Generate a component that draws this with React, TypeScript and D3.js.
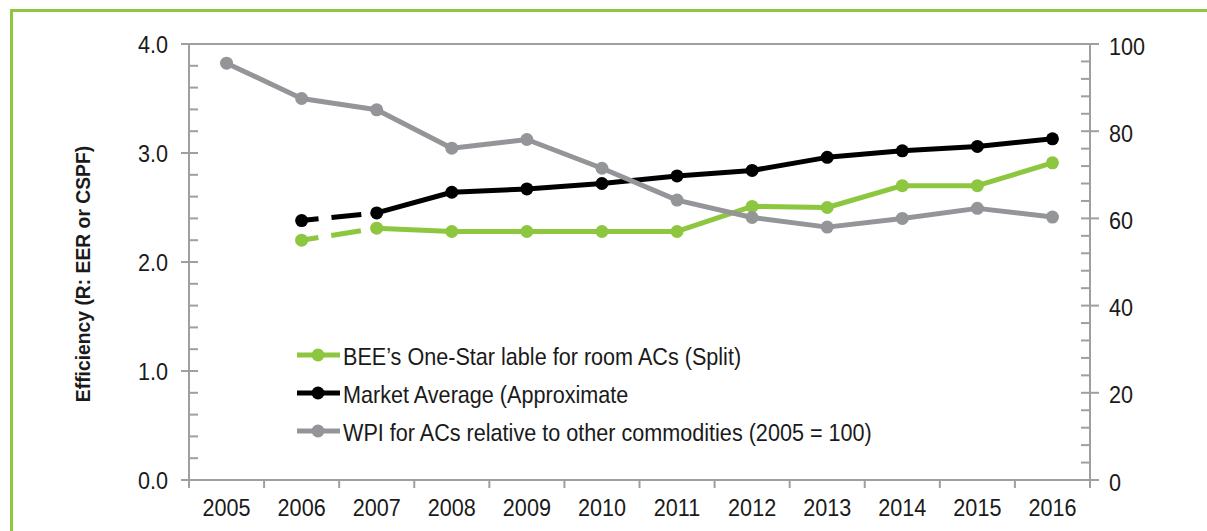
import * as d3 from "d3";
import type { ReactNode } from "react";

const W = 1207;
const H = 531;
const MARGIN = { top: 44, right: 117, bottom: 51, left: 189 };

const years = ["2005", "2006", "2007", "2008", "2009", "2010", "2011", "2012", "2013", "2014", "2015", "2016"];
// efficiency, left axis (null = no value)
const beeOneStar = [null, 2.2, 2.31, 2.28, 2.28, 2.28, 2.28, 2.51, 2.5, 2.7, 2.7, 2.91];
const marketAvg = [null, 2.38, 2.45, 2.64, 2.67, 2.72, 2.79, 2.84, 2.96, 3.02, 3.06, 3.13];
// WPI, right axis
const wpi = [95.6, 87.5, 84.9, 76.1, 78.1, 71.5, 64.2, 60.2, 58.0, 60.0, 62.3, 60.3];

const leftTicks = [0, 1, 2, 3, 4];
const rightTicks = [0, 20, 40, 60, 80, 100];
const legendLabels = [
  "BEE\u2019s One-Star lable for room ACs (Split)",
  "Market Average (Approximate",
  "WPI for ACs relative to other commodities (2005 = 100)",
];

const GREEN = "#8dc63f";
const BLACK = "#000000";
const GREY = "#939598";
const AXIS = "#9d9fa2";
const TEXT = "#1a1a1a";
const FONT = "'Liberation Sans', Arial, sans-serif";
const SX = 0.9; // condensed look

type Pt = { year: string; v: number };

// horizontally squeezed text, the original uses a condensed face
const T = ({
  x,
  y,
  anchor = "start",
  size = 24,
  children,
}: {
  x: number;
  y: number;
  anchor?: string;
  size?: number;
  children: ReactNode;
}) => (
  <text
    transform={`translate(${x},${y}) scale(${SX},1)`}
    textAnchor={anchor}
    dy="0.36em"
    fontSize={size}
    fill={TEXT}
  >
    {children}
  </text>
);

export default function App() {
  const x0 = MARGIN.left;
  const x1 = W - MARGIN.right;
  const y0 = H - MARGIN.bottom;
  const y1 = MARGIN.top;

  const xScale = d3.scaleBand().domain(years).range([x0, x1]).padding(0);
  const cx = (y: string) => (xScale(y) || 0) + xScale.bandwidth() / 2;
  const yLeft = d3.scaleLinear().domain([0, 4]).range([y0, y1]);
  const yRight = d3.scaleLinear().domain([0, 100]).range([y0, y1]);

  const toPts = (vals: (number | null)[]): Pt[] =>
    years
      .map((year, i) => ({ year, v: vals[i] }))
      .filter((d) => d.v !== null) as Pt[];

  const series = [
    { name: legendLabels[0], color: GREEN, pts: toPts(beeOneStar), y: yLeft, dashFirst: true },
    { name: legendLabels[1], color: BLACK, pts: toPts(marketAvg), y: yLeft, dashFirst: true },
    { name: legendLabels[2], color: GREY, pts: toPts(wpi), y: yRight, dashFirst: false },
  ];

  const leftMinor = d3.range(0, 4.001, 0.2);
  const rightMinor = d3.range(0, 100.001, 4);

  return (
    <div style={{ position: "absolute", left: 0, top: 0 }}>
      <svg width={W} height={H} style={{ display: "block", fontFamily: FONT }}>
        <rect x={0} y={0} width={W} height={H} fill="#fff" />
        {/* green frame */}
        <path d={`M11.5,${H + 5} V10.5 H${W + 5}`} fill="none" stroke={GREEN} strokeWidth={3} />

        {/* top border */}
        <line x1={x0 - 8} x2={x1 + 9} y1={y1} y2={y1} stroke={AXIS} strokeWidth={2} />

        {/* left axis */}
        <line x1={x0} x2={x0} y1={y1} y2={y0 + 8} stroke={AXIS} strokeWidth={2} />
        {leftMinor.map((t, i) => (
          <line key={"lm" + i} x1={x0} x2={x0 + 9} y1={yLeft(t)} y2={yLeft(t)} stroke={AXIS} strokeWidth={2} />
        ))}
        {leftTicks.map((t) => (
          <g key={"lt" + t}>
            <line x1={x0 - 8} x2={x0} y1={yLeft(t)} y2={yLeft(t)} stroke={AXIS} strokeWidth={2} />
            <T x={x0 - 21} y={yLeft(t)} anchor="end">
              {t.toFixed(1)}
            </T>
          </g>
        ))}

        {/* right axis */}
        <line x1={x1} x2={x1} y1={y1} y2={y0 + 8} stroke={AXIS} strokeWidth={2} />
        {rightMinor.map((t, i) => (
          <line key={"rm" + i} x1={x1 - 9} x2={x1} y1={yRight(t)} y2={yRight(t)} stroke={AXIS} strokeWidth={2} />
        ))}
        {rightTicks.map((t) => (
          <g key={"rt" + t}>
            <line x1={x1} x2={x1 + 9} y1={yRight(t)} y2={yRight(t)} stroke={AXIS} strokeWidth={2} />
            <T x={x1 + 19} y={yRight(t) + 2}>
              {t}
            </T>
          </g>
        ))}

        {/* bottom axis */}
        <line x1={x0 - 8} x2={x1 + 9} y1={y0} y2={y0} stroke={AXIS} strokeWidth={2} />
        {years.map((y) => (
          <line key={"xt" + y} x1={xScale(y)} x2={xScale(y)} y1={y0} y2={y0 + 8} stroke={AXIS} strokeWidth={2} />
        ))}
        {years.map((y) => (
          <T key={"xl" + y} x={cx(y)} y={y0 + 27} anchor="middle">
            {y}
          </T>
        ))}

        {/* y title */}
        <text
          transform={`translate(90,274) rotate(-90) scale(0.92,1)`}
          textAnchor="middle"
          fontSize={21}
          fontWeight="bold"
          fill={TEXT}
        >
          Efficiency (R: EER or CSPF)
        </text>

        {/* series */}
        {series.map((s) => {
          const line = d3
            .line<Pt>()
            .x((d) => cx(d.year))
            .y((d) => s.y(d.v));
          const solid = s.dashFirst ? s.pts.slice(1) : s.pts;
          const dashed = s.dashFirst ? s.pts.slice(0, 2) : [];
          return (
            <g key={s.name}>
              {dashed.length > 0 && (
                <path
                  d={line(dashed) || ""}
                  fill="none"
                  stroke={s.color}
                  strokeWidth={5}
                  strokeDasharray="17 13 30 15"
                />
              )}
              <path d={line(solid) || ""} fill="none" stroke={s.color} strokeWidth={5} strokeLinejoin="round" />
              {s.pts.map((d) => (
                <circle key={d.year} cx={cx(d.year)} cy={s.y(d.v)} r={6.5} fill={s.color} />
              ))}
            </g>
          );
        })}

        {/* legend */}
        {series.map((s, i) => {
          const ly = 355 + i * 38;
          return (
            <g key={"lg" + i}>
              <line x1={297} x2={340} y1={ly} y2={ly} stroke={s.color} strokeWidth={5} />
              <circle cx={318} cy={ly} r={6.5} fill={s.color} />
              <T x={343} y={ly + 1}>{s.name}</T>
            </g>
          );
        })}
      </svg>
    </div>
  );
}
